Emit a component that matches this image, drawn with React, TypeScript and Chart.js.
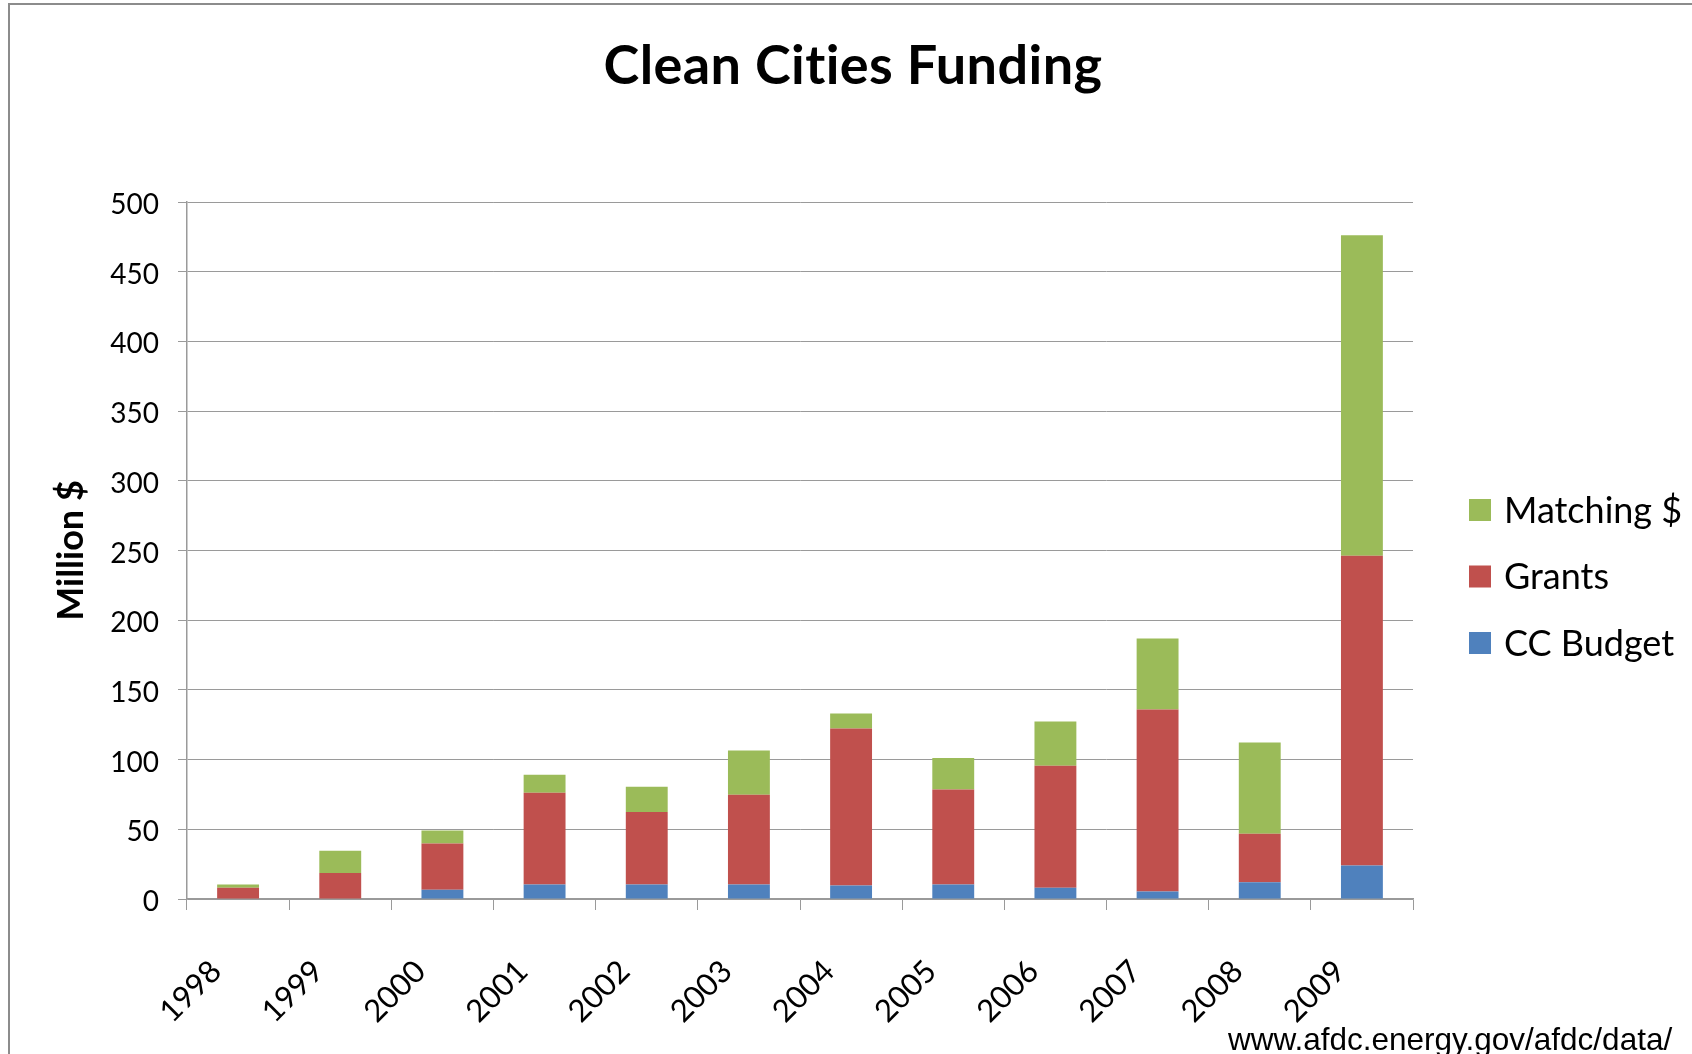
import React, { useEffect, useRef } from "react";
import { Chart, registerables } from "chart.js";

Chart.register(...registerables);

const years = ["1998", "1999", "2000", "2001", "2002", "2003", "2004", "2005", "2006", "2007", "2008", "2009"];
const ccBudget = [0, 0, 6.7, 10.4, 10.4, 10.4, 9.7, 10.4, 8.0, 5.3, 12.0, 24.1];
const grants = [8.0, 18.7, 33.1, 65.8, 52.1, 64.4, 112.6, 68.1, 87.6, 130.7, 34.8, 222.1];
const matching = [2.4, 16.0, 9.3, 13.0, 18.0, 31.8, 10.7, 22.7, 31.7, 50.8, 65.5, 229.9];

const chartTitle = "Clean Cities Funding";
const yAxisTitle = "Million $";
const sourceNote = "www.afdc.energy.gov/afdc/data/";

const W = 1692;
const H = 1054;

const frameAndExtras = {
  id: "frameAndExtras",
  beforeDraw(chart: any) {
    const ctx = chart.ctx;
    ctx.save();
    ctx.fillStyle = "#ffffff";
    ctx.fillRect(0, 0, chart.width, chart.height);
    ctx.strokeStyle = "#8c8c8c";
    ctx.lineWidth = 2;
    ctx.strokeRect(9, 4, chart.width + 20, chart.height + 20);
    ctx.restore();
  },
  afterDraw(chart: any) {
    const ctx = chart.ctx;
    ctx.save();
    // title (small letter spacing keeps Lato from using the "ti" ligature)
    ctx.font = "bold 54px Lato";
    try {
      (ctx as any).letterSpacing = "0.4px";
    } catch (e) {}
    ctx.textAlign = "center";
    ctx.textBaseline = "middle";
    ctx.fillStyle = "#000000";
    ctx.fillText(chartTitle, 853, 67);
    try {
      (ctx as any).letterSpacing = "0px";
    } catch (e) {}
    // legend (reverse order)
    const ds = chart.data.datasets.slice().reverse();
    const boxX = 1469;
    const textX = 1504;
    const y0 = 510;
    const gap = 66.5;
    ctx.font = "36px Lato";
    ctx.textBaseline = "middle";
    ctx.textAlign = "left";
    ds.forEach((d: any, i: number) => {
      const cy = y0 + i * gap;
      ctx.fillStyle = d.backgroundColor;
      ctx.fillRect(boxX, cy - 11, 22, 22);
      ctx.fillStyle = "#000000";
      ctx.fillText(d.label, textX, cy + 1);
    });
    // source note
    ctx.font = "31.5px 'Liberation Sans'";
    ctx.textBaseline = "alphabetic";
    ctx.fillStyle = "#000000";
    ctx.fillText(sourceNote, 1228, 1050);
    ctx.restore();
  },
};

export default function App() {
  const ref = useRef<HTMLCanvasElement | null>(null);
  useEffect(() => {
    if (!ref.current) return;
    const chart = new Chart(ref.current, {
      type: "bar",
      data: {
        labels: years,
        datasets: [
          { label: "CC Budget", data: ccBudget, backgroundColor: "#4F81BD" },
          { label: "Grants", data: grants, backgroundColor: "#C0504D" },
          { label: "Matching $", data: matching, backgroundColor: "#9BBB59" },
        ],
      },
      options: {
        animation: false,
        responsive: false,
        devicePixelRatio: 1,
        layout: { padding: { left: 0, right: 279, top: 202, bottom: 0 } },
        datasets: { bar: { barPercentage: 0.41, categoryPercentage: 1.0, borderWidth: 0 } },
        plugins: {
          legend: { display: false },
          tooltip: { enabled: false },
          title: { display: false },
        },
        scales: {
          x: {
            stacked: true,
            offset: true,
            grid: {
              display: true,
              drawOnChartArea: false,
              drawTicks: true,
              tickLength: 11,
              color: "#9a9a9a",
              offset: true,
            },
            border: { display: true, color: "#9a9a9a", width: 1.5 },
            ticks: {
              autoSkip: false,
              minRotation: 45,
              maxRotation: 45,
              color: "#000000",
              font: { family: "Lato", size: 31 },
              padding: 43,
              labelOffset: -22,
            },
            afterFit(scale: any) {
              scale.height = 155;
            },
          },
          y: {
            stacked: true,
            min: 0,
            max: 500,
            ticks: {
              stepSize: 50,
              color: "#000000",
              font: { family: "Lato", size: 28 },
              padding: 19,
              labelOffset: 3,
            },
            grid: {
              color: "#9a9a9a",
              lineWidth: 1,
              drawTicks: true,
              tickLength: 9,
            },
            border: { display: true, color: "#9a9a9a", width: 1.5 },
            title: {
              display: true,
              text: yAxisTitle,
              color: "#000000",
              font: { family: "Lato", size: 36, weight: "bold", lineHeight: 1.2 },
              padding: { top: 50, bottom: 0 },
            },
            afterFit(scale: any) {
              scale.width = 187;
            },
          },
        },
      },
      plugins: [frameAndExtras],
    });
    return () => chart.destroy();
  }, []);
  return (
    <div style={{ position: "fixed", left: 0, top: 0, width: W, height: H, background: "#fff" }}>
      <canvas ref={ref} width={W} height={H} style={{ width: W, height: H, display: "block" }} />
    </div>
  );
}
